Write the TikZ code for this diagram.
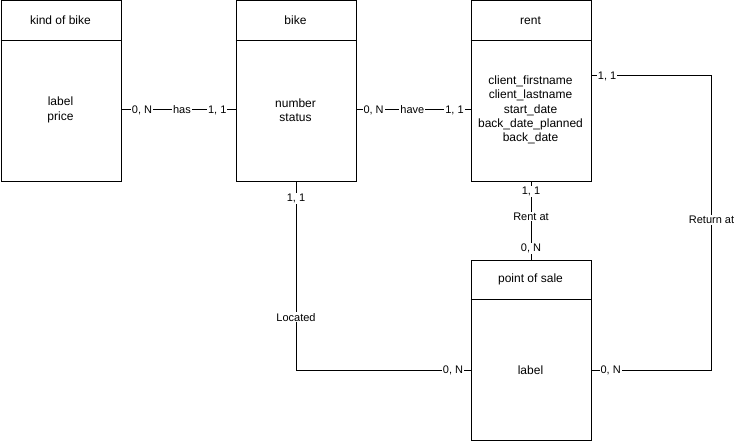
\documentclass[tikz,border=0pt]{standalone}
\usepackage{fontspec}
\setmainfont{Liberation Sans}
\begin{document}
\begin{tikzpicture}[x=1pt,y=-1pt,
  entity/.style={draw, line width=1pt, minimum width=120pt, minimum height=180pt, anchor=north west, inner sep=0pt},
  ttl/.style={font=\fontsize{12}{14.4}\selectfont},
  attr/.style={font=\fontsize{12}{14.4}\selectfont, align=center},
  lab/.style={fill=white, font=\fontsize{11}{13}\selectfont, inner sep=1pt},
  conn/.style={line width=1pt}]
\useasboundingbox (0,0) rectangle (736,441);
% entities
\node[entity] (kob) at (0.5,0.5) {};
\node[entity] (bike) at (235.5,0.5) {};
\node[entity] (rent) at (470.5,0.5) {};
\node[entity] (pos) at (470.5,259.5) {};
\foreach \e in {kob,bike,rent,pos}{
  \draw[line width=1pt] ([yshift=-40pt]\e.north west) -- ([yshift=-40pt]\e.north east);
}
% titles
\node[ttl] (kobT) at (60.5,20.5) {kind of bike};
\node[ttl] (bikeT) at (295.5,20.5) {bike};
\node[ttl] (rentT) at (530.5,20.5) {rent};
\node[ttl] (posT) at (530.5,279.5) {point of sale};
% attributes
\node[attr] (kobA) at (60.5,110) {label\\price};
\node[attr] (bikeA) at (295.5,110) {number\\status};
\node[attr] (rentA) at (530.5,110) {client\_firstname\\client\_lastname\\start\_date\\back\_date\_planned\\back\_date};
\node[attr] (posA) at (530.5,370) {label};
% connectors
\draw[conn] (kob.east |- kobA) -- node[lab,pos=0.18]{0, N} node[lab,pos=0.53]{has} node[lab,pos=0.84]{1, 1} (bike.west |- kobA);
\draw[conn] (bike.east |- bikeA) -- node[lab,pos=0.15]{0, N} node[lab,pos=0.49]{have} node[lab,pos=0.86]{1, 1} (rent.west |- bikeA);
\draw[conn] (bike.south) -- node[lab,pos=0.09]{1, 1} node[lab,pos=0.72]{Located} (bike.south |- posA) -- node[lab,pos=0.9]{0, N} (pos.west |- posA);
\draw[conn] (rent.south) -- node[lab,pos=0.125]{1, 1} node[lab,pos=0.45]{Rent at} node[lab,pos=0.86]{0, N} (pos.north);
\draw[conn] ([yshift=15pt]rent.east) -- node[lab,pos=0.13]{1, 1} ++(120,0) coordinate (r1) -- node[lab,pos=0.49]{Return at} (r1 |- posA) -- node[lab,pos=0.84]{0, N} (pos.east |- posA);
\end{tikzpicture}
\end{document}
